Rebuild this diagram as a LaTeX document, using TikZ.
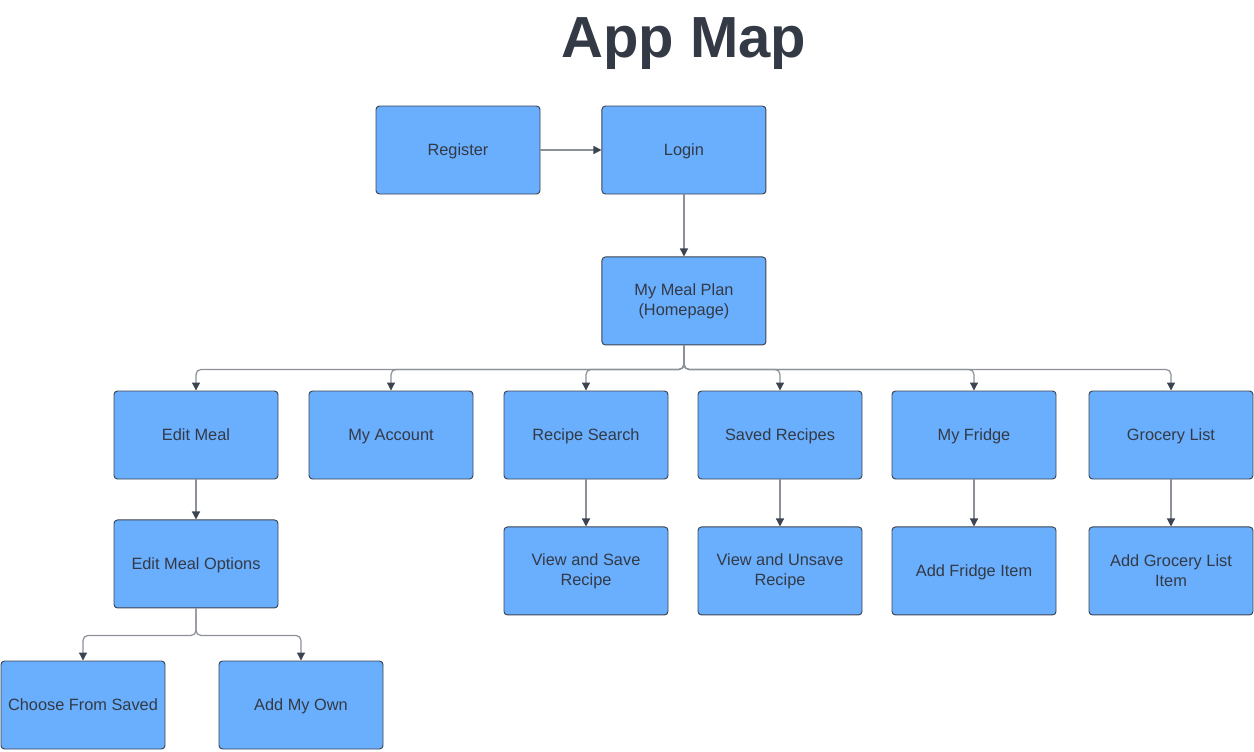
\documentclass[tikz,border=0pt]{standalone}
\usepackage{fontspec}
\setmainfont{Liberation Sans}
\usetikzlibrary{positioning,arrows.meta}
\definecolor{boxblue}{RGB}{106,174,254}
\definecolor{boxline}{RGB}{61,68,81}
\definecolor{inkgray}{RGB}{51,58,69}
\definecolor{wiregray}{RGB}{140,145,153}

\begin{document}
\begin{tikzpicture}[main node/.style={draw=boxline, line width=0.55pt, fill=boxblue, rounded corners=0.07cm,
    minimum width=3.28cm, minimum height=1.76cm, align=center, text=inkgray, font=\fontsize{9.3}{11.5}\selectfont,
    text height=1.45ex, text depth=0.35ex},
  two line/.style={text height=, text depth=},
  link/.style={draw=wiregray, line width=0.7pt, rounded corners=0.1cm,
    -{Triangle[width=0.16cm, length=0.16cm, color=boxline, fill=boxline]}}]
\useasboundingbox (0,0) rectangle (25.08,-15.04);
\node[anchor=base, text=inkgray, font=\fontsize{33}{36}\selectfont\bfseries] (title) at (13.68,-1.14) {App Map};
\node[main node] (register) at (9.16,-3.0) {Register};
\node[main node, right=1.22cm of register] (login) {Login};
\node[main node, two line, below=1.24cm of login] (plan) {My Meal Plan\\(Homepage)};
\node[main node] (editmeal) at (3.92,-8.7)  {Edit Meal};
\node[main node] (account)  at (7.82,-8.7)  {My Account};
\node[main node] (search)   at (11.72,-8.7) {Recipe Search};
\node[main node] (saved)    at (15.6,-8.7)  {Saved Recipes};
\node[main node] (fridge)   at (19.48,-8.7) {My Fridge};
\node[main node] (grocery)  at (23.42,-8.7) {Grocery List};
\node[main node, two line, below=0.94cm of search]  (viewsave)    {View and Save\\Recipe};
\node[main node, two line, below=0.94cm of saved]   (unsave)      {View and Unsave\\Recipe};
\node[main node, below=0.94cm of fridge]            (fridgeitem)  {Add Fridge Item};
\node[main node, two line, below=0.94cm of grocery] (groceryitem) {Add Grocery List\\Item};
\node[main node, below=0.8cm of editmeal] (options) {Edit Meal Options};
\node[main node] (choose) at (1.66,-14.1) {Choose From Saved};
\node[main node] (own)    at (6.02,-14.1) {Add My Own};
\coordinate (bus) at ([yshift=-0.48cm]plan.south);
\coordinate (subbus) at ([yshift=-0.54cm]options.south);
\path[link]
(register) edge (login)
(login) edge (plan)
(editmeal) edge (options)
(search) edge (viewsave)
(saved) edge (unsave)
(fridge) edge (fridgeitem)
(grocery) edge (groceryitem)
;
\foreach \n in {editmeal,account,search,saved,fridge,grocery}
  \draw[link] (plan.south) -- (bus) -| (\n.north);
\foreach \n in {choose,own}
  \draw[link] (options.south) -- (subbus) -| (\n.north);
\end{tikzpicture}
\end{document}
